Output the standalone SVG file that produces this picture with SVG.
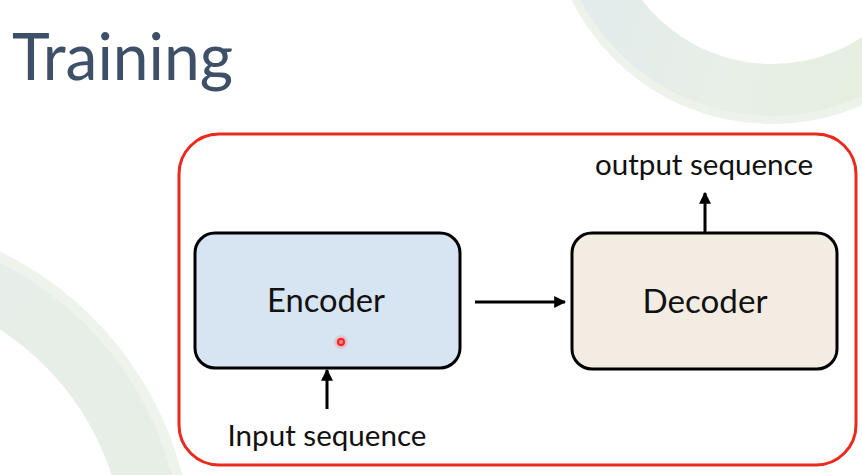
<svg xmlns="http://www.w3.org/2000/svg" width="862" height="475" viewBox="0 0 862 475">
<style>
.lbl{font-family:"Lato","Open Sans","Liberation Sans",sans-serif;fill:#111;}
.box{stroke:#000;stroke-width:3;}
.conn{stroke:#000;stroke-width:3;fill:none;}
</style>
<defs>
<marker id="ah" viewBox="0 0 10 10" refX="9" refY="5" markerWidth="4" markerHeight="4" orient="auto" markerUnits="strokeWidth">
<path d="M0,0 L10,5 L0,10 Z" fill="#000"/>
</marker>
<linearGradient id="g1" x1="0" y1="0" x2="1" y2="0.3">
<stop offset="0" stop-color="#dbe5ec"/>
<stop offset="0.6" stop-color="#e3ece3"/>
<stop offset="1" stop-color="#e2ecda"/>
</linearGradient>
<linearGradient id="g2" x1="0" y1="0" x2="1" y2="1">
<stop offset="0" stop-color="#e2eae9"/>
<stop offset="1" stop-color="#e0eadb"/>
</linearGradient>
<radialGradient id="dot" cx="0.5" cy="0.5" r="0.5">
<stop offset="0" stop-color="#ff3030" stop-opacity="0.6"/>
<stop offset="1" stop-color="#ff3030" stop-opacity="0"/>
</radialGradient>
</defs>
<rect width="862" height="475" fill="#fff"/>
<g id="background">
<circle cx="772" cy="-100" r="193" fill="none" stroke="url(#g1)" stroke-width="58" opacity="0.85"/>
<circle cx="772" cy="-100" r="220" fill="none" stroke="#edf3ea" stroke-width="8"/>
<circle cx="-150" cy="560" r="305" fill="none" stroke="url(#g2)" stroke-width="60" opacity="0.8"/>
<circle cx="-150" cy="560" r="338" fill="none" stroke="#eef3ec" stroke-width="10"/>
</g>
<text x="12" y="80" font-family="Lato,'Open Sans','Liberation Sans',sans-serif" font-size="66" fill="#3e5067" textLength="221" lengthAdjust="spacingAndGlyphs">Training</text>
<g id="frame">
<rect x="179" y="134" width="677" height="331" rx="40" fill="none" stroke="#ea2a1c" stroke-width="3"/>
</g>
<g id="encoder">
<rect class="box" x="195" y="233" width="265" height="135" rx="20" fill="#d7e5f3"/>
<text class="lbl" x="326" y="312" font-size="32" text-anchor="middle" textLength="118" lengthAdjust="spacingAndGlyphs">Encoder</text>
<circle cx="341" cy="342" r="8" fill="url(#dot)"/>
<circle cx="341" cy="342" r="3" fill="none" stroke="#ff2020" stroke-width="2"/>
</g>
<g id="decoder">
<rect class="box" x="572" y="233" width="265" height="136" rx="20" fill="#f3ece3"/>
<text class="lbl" x="705" y="313" font-size="32" text-anchor="middle" textLength="125" lengthAdjust="spacingAndGlyphs">Decoder</text>
</g>
<g id="input">
<text class="lbl" x="327" y="446" font-size="28" text-anchor="middle" textLength="199" lengthAdjust="spacingAndGlyphs">Input sequence</text>
</g>
<g id="output">
<text class="lbl" x="704" y="175" font-size="28" text-anchor="middle" textLength="218" lengthAdjust="spacingAndGlyphs">output sequence</text>
</g>
<g id="connectors">
<line class="conn" x1="475" y1="302" x2="565" y2="302" marker-end="url(#ah)"/>
<line class="conn" x1="705" y1="232" x2="705" y2="193" marker-end="url(#ah)"/>
<line class="conn" x1="327" y1="409" x2="327" y2="370" marker-end="url(#ah)"/>
</g>
</svg>
